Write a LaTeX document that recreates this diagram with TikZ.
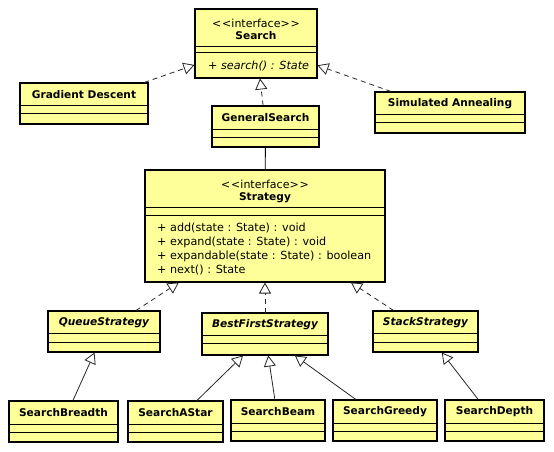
\documentclass[tikz,border=0pt]{standalone}
\usepackage{fontspec}
\setmainfont{DejaVu Sans}
\usetikzlibrary{arrows.meta}
\definecolor{umlfill}{RGB}{255,255,153}
\newcommand\UMLclass[7]{%
  \node[classbox, minimum width={(#4-#2)*1pt}, minimum height={(#5-#3)*1pt}] (#1) at ({(#2+#4)/2},{(#3+#5)/2}) {};
  \draw[divider] (#2,#6) -- (#4,#6);
  \draw[divider] (#2,#7) -- (#4,#7);
}
\tikzset{
  classbox/.style={draw=black, line width=2pt, fill=umlfill, rectangle, inner sep=0pt, outer sep=0.5pt},
  divider/.style={line width=1pt},
  classtitle/.style={font=\fontsize{10.6}{12}\selectfont\bfseries, inner sep=0pt, anchor=center},
  abstracttitle/.style={font=\fontsize{10.6}{12}\selectfont\bfseries\itshape, inner sep=0pt, anchor=center},
  stereo/.style={font=\fontsize{11}{12}\selectfont, inner sep=0pt},
  umlmethod/.style={font=\fontsize{11.2}{12}\selectfont, inner sep=0pt, anchor=west},
  hollowtip/.style={-{Triangle[length=11pt,width=12pt,fill=white,line width=0.8pt]}},
  realize/.style={draw=black!85, line width=0.8pt, dash pattern=on 5pt off 4pt, hollowtip},
  inherit/.style={draw=black!85, line width=0.8pt, hollowtip},
  assoc/.style={draw=black, line width=0.8pt}
}
\begin{document}
\begin{tikzpicture}[x=1pt,y=-1pt]
\useasboundingbox (0,0) rectangle (554,452);

% classes
\UMLclass{search}{195}{9}{317}{78}{47}{53}
\node[stereo] (search-st) at (256,23) {<\kern1pt<interface>\kern1pt>};
\node[classtitle] (search-name) at (256,35.5) {Search};
\node[umlmethod, font=\fontsize{11.2}{12}\selectfont\itshape] (search-m) at (208,65.5) {+ search() : State};

\UMLclass{gd}{20}{83}{148}{124}{105}{113}
\node[classtitle] (gd-name) at (84,94.5) {Gradient Descent};

\UMLclass{sa}{375}{92}{525}{133}{114}{122}
\node[classtitle] (sa-name) at (450,103.5) {Simulated Annealing};

\UMLclass{gs}{212}{106}{319}{147}{129}{137}
\node[classtitle] (gs-name) at (265.5,118) {GeneralSearch};

\UMLclass{strategy}{145}{170}{385}{282}{207}{215}
\node[stereo] (strategy-st) at (265,184) {<\kern1pt<interface>\kern1pt>};
\node[classtitle] (strategy-name) at (265,198) {Strategy};
\node[umlmethod] (m1) at (157,228) {+ add(state : State) : void};
\node[umlmethod] (m2) at (157,242) {+ expand(state : State) : void};
\node[umlmethod] (m3) at (157,256) {+ expandable(state : State) : boolean};
\node[umlmethod] (m4) at (157,269.5) {+ next() : State};

\UMLclass{queue}{48}{311}{160}{352}{333}{342}
\node[abstracttitle] (queue-name) at (104,322.5) {QueueStrategy};

\UMLclass{bestfirst}{202}{313}{328}{355}{335}{343}
\node[abstracttitle] (bestfirst-name) at (265,324.5) {BestFirstStrategy};

\UMLclass{stack}{373}{311}{478}{352}{333}{342}
\node[abstracttitle] (stack-name) at (425.5,322.5) {StackStrategy};

\UMLclass{breadth}{9}{401}{118}{442}{424}{432}
\node[classtitle] (breadth-name) at (63.5,412.5) {SearchBreadth};

\UMLclass{astar}{128}{401}{223}{442}{424}{432}
\node[classtitle] (astar-name) at (175.5,412.5) {SearchAStar};

\UMLclass{beam}{231}{400}{325}{441}{423}{431}
\node[classtitle] (beam-name) at (278,411.5) {SearchBeam};

\UMLclass{greedy}{333}{400}{437}{441}{423}{431}
\node[classtitle] (greedy-name) at (385,411.5) {SearchGreedy};

\UMLclass{depth}{445}{400}{544}{441}{423}{431}
\node[classtitle] (depth-name) at (494.5,411.5) {SearchDepth};

% connectors
\draw[realize] (gd) -- (search);
\draw[realize] (sa) -- (search);
\draw[realize] (gs) -- (search);
\draw[assoc] (gs) -- (strategy);
\draw[realize] (queue) -- (strategy);
\draw[realize] (bestfirst) -- (strategy);
\draw[realize] (stack) -- (strategy);
\draw[inherit] (breadth) -- (queue);
\draw[inherit] (astar) -- (bestfirst);
\draw[inherit] (beam) -- (bestfirst);
\draw[inherit] (greedy) -- (bestfirst);
\draw[inherit] (depth) -- (stack);
\end{tikzpicture}
\end{document}
